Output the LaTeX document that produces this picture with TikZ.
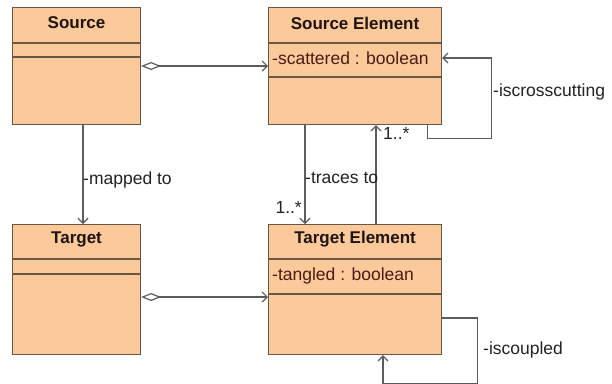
\documentclass[tikz,border=0pt]{standalone}
\usepackage{fontspec}
\setmainfont{Liberation Sans}
\usetikzlibrary{arrows.meta,calc}
\definecolor{boxfill}{HTML}{FCCA9A}
\definecolor{boxedge}{HTML}{6A5646}
\definecolor{wire}{HTML}{5C5C5C}
\definecolor{attrtext}{HTML}{4A1A14}
\definecolor{titletext}{HTML}{1E1410}
\definecolor{labeltext}{HTML}{222222}
\begin{document}
\begin{tikzpicture}[x=1bp,y=-1bp,
  umlbox/.style={draw=boxedge, fill=boxfill, line width=1.1bp, rectangle,
    anchor=north west, inner sep=0pt},
  sepline/.style={draw=boxedge, line width=1.1bp},
  classname/.style={inner sep=0pt, text=titletext,
    font=\fontsize{17bp}{20bp}\selectfont\bfseries},
  attr/.style={inner sep=0pt, anchor=base west, text=attrtext,
    font=\fontsize{17.5bp}{20bp}\selectfont},
  lbl/.style={inner sep=0pt, text=labeltext,
    font=\fontsize{17.5bp}{20bp}\selectfont},
  wire/.style={draw=wire, line width=1.2bp},
  opentip/.style={-{Straight Barb[length=5bp,width=10bp,line width=1.2bp]}},
  aggtip/.style={{Diamond[open,length=20bp,width=8bp,line width=1.2bp]}-{Straight Barb[length=5bp,width=10bp,line width=1.2bp]}}
]
\fill[white] (0,0) rectangle (612,383);
\useasboundingbox (0,0) rectangle (612,383);

% class boxes
\node[umlbox, minimum width=128bp, minimum height=117bp] (src)   at (12,7)    {};
\node[umlbox, minimum width=173bp, minimum height=117bp] (srcel) at (268,7)   {};
\node[umlbox, minimum width=128bp, minimum height=130bp] (tgt)   at (12,224)  {};
\node[umlbox, minimum width=173bp, minimum height=130bp] (tgtel) at (268,224) {};

% compartment separators
\foreach \b/\a/\o in {src/36/50, srcel/36/70, tgt/35/50, tgtel/35/70}{
  \draw[sepline] ([yshift=-\a bp]\b.north west) -- ([yshift=-\a bp]\b.north east);
  \draw[sepline] ([yshift=-\o bp]\b.north west) -- ([yshift=-\o bp]\b.north east);
}

% class names
\node[classname] (srcname)   at ([yshift=-16bp]src.north)   {Source};
\node[classname] (srcelname) at ([yshift=-16bp]srcel.north) {Source Element};
\node[classname] (tgtname)   at ([yshift=-15bp]tgt.north)   {Target};
\node[classname] (tgtelname) at ([yshift=-15bp]tgtel.north) {Target Element};

% attributes
\node[attr] (srcattr) at ([xshift=4bp,yshift=-57bp]srcel.north west) {-scattered : boolean};
\node[attr] (tgtattr) at ([xshift=4bp,yshift=-56bp]tgtel.north west) {-tangled : boolean};

% aggregations
\draw[wire, aggtip] ([yshift=-59bp]src.north east) -- ([yshift=-59bp]srcel.north west);
\draw[wire, aggtip] ([yshift=-73bp]tgt.north east) -- ([yshift=-73bp]tgtel.north west);

% associations
\draw[wire, opentip] ([xshift=71bp]src.south west) -- ([xshift=71bp]tgt.north west);
\draw[wire, opentip] ([xshift=37bp]srcel.south west) -- ([xshift=37bp]tgtel.north west);
\draw[wire, opentip] ([xshift=108bp]tgtel.north west) -- ([xshift=108bp]srcel.south west);

% self associations
\draw[wire, opentip] ([xshift=-15bp]srcel.south east) -- ++(0,13)
  -| ([xshift=49bp,yshift=-51bp]srcel.north east) -- ([yshift=-51bp]srcel.north east);
\draw[wire, opentip] ([yshift=-94bp]tgtel.north east) -- ++(35,0)
  |- ([xshift=115bp,yshift=-28bp]tgtel.south west) -- ([xshift=115bp]tgtel.south west);

% role names and multiplicities
\node[lbl, anchor=west] (lmapped) at (83,180)  {-mapped to};
\node[lbl, anchor=west] (ltraces) at (305,178) {-traces to};
\node[lbl, anchor=east] (mtgt)    at (302,207) {1..*};
\node[lbl, anchor=west] (msrc)    at (383,133) {1..*};
\node[lbl, anchor=west] (lcross)  at (493,92)  {-iscrosscutting};
\node[lbl, anchor=west] (lcoup)   at (483,350) {-iscoupled};
\end{tikzpicture}
\end{document}
